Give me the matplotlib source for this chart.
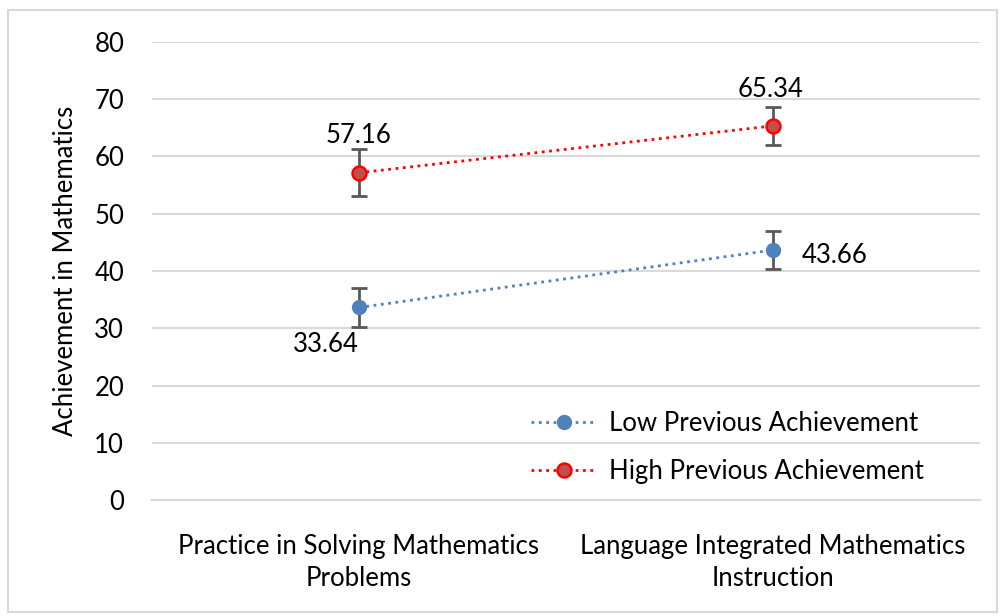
import matplotlib.pyplot as plt
from matplotlib.patches import Rectangle

plt.rcParams['font.family'] = ['Lato', 'DejaVu Sans']

categories = ["Practice in Solving Mathematics\nProblems",
              "Language Integrated Mathematics\nInstruction"]
low = [33.64, 43.66]
low_err = [3.4, 3.3]
high = [57.16, 65.34]
high_err = [4.1, 3.3]

fig = plt.figure(figsize=(10, 6.16), dpi=100)
fig.patches.append(Rectangle((0.008, 0.006), 0.989, 0.978, transform=fig.transFigure,
                             fill=False, edgecolor='#d9d9d9', linewidth=1.5))
ax = fig.add_axes([0.152, 0.188, 0.828, 0.744])

x = [0, 1]
ax.errorbar(x, low, yerr=low_err, fmt='none', ecolor='#595959', elinewidth=2,
            capsize=6, capthick=2, zorder=3)
ax.errorbar(x, high, yerr=high_err, fmt='none', ecolor='#595959', elinewidth=2,
            capsize=6, capthick=2, zorder=3)
ax.plot(x, low, linestyle=':', color='#4f81bd', linewidth=2, marker='o', markersize=10,
        markerfacecolor='#4f81bd', markeredgecolor='#4f81bd',
        label='Low Previous Achievement', zorder=4)
ax.plot(x, high, linestyle=':', color='#ff0000', linewidth=2, marker='o', markersize=10,
        markerfacecolor='#c0504d', markeredgecolor='#ff0000', markeredgewidth=1.8,
        label='High Previous Achievement', zorder=4)

# data labels
fs = 18.5
ax.annotate(f"{high[0]:.2f}", (x[0], high[0]), xytext=(0, 27), textcoords='offset points',
            ha='center', va='center', fontsize=fs)
ax.annotate(f"{high[1]:.2f}", (x[1], high[1]), xytext=(-2, 26), textcoords='offset points',
            ha='center', va='center', fontsize=fs)
ax.annotate(f"{low[0]:.2f}", (x[0], low[0]), xytext=(-24, -27), textcoords='offset points',
            ha='center', va='center', fontsize=fs)
ax.annotate(f"{low[1]:.2f}", (x[1], low[1]), xytext=(21, -4), textcoords='offset points',
            ha='left', va='center', fontsize=fs)

ax.set_xlim(-0.5, 1.5)
ax.set_ylim(0, 80)
ax.set_yticks(range(0, 81, 10))
ax.set_xticks(x)
ax.set_xticklabels(categories, fontsize=fs, linespacing=1.35)
ax.tick_params(axis='y', labelsize=fs, length=0, pad=20)
ax.tick_params(axis='x', length=0, pad=24)
ax.set_ylabel("Achievement in Mathematics", fontsize=18.5, labelpad=12)
ax.grid(axis='y', color='#d9d9d9', linewidth=1.5)
ax.set_axisbelow(True)
for s in ['top', 'right', 'left']:
    ax.spines[s].set_visible(False)
ax.spines['bottom'].set_color('#d9d9d9')
ax.spines['bottom'].set_linewidth(1.5)

ax.legend(loc='lower right', bbox_to_anchor=(0.96, -0.015), frameon=False, fontsize=fs,
          handlelength=2.6, handletextpad=0.45, labelspacing=0.9)

plt.savefig("out.png", dpi=100)
